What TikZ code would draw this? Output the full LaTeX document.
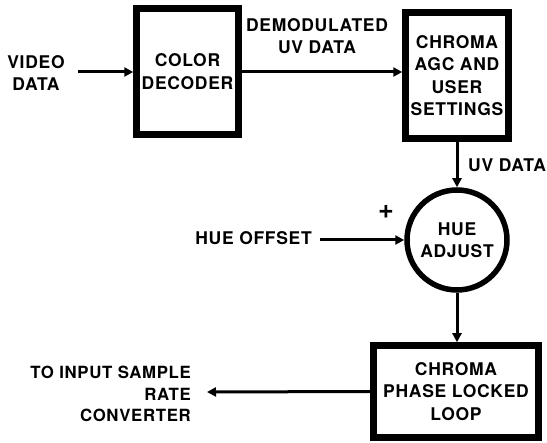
\documentclass[tikz,border=0pt]{standalone}
\usepackage{fontspec}
\setmainfont{TeX Gyre Heros}[LetterSpace=4]
\usetikzlibrary{arrows.meta}
\begin{document}
\begin{tikzpicture}[x=1pt,y=-1pt,
  lbl/.style={font=\fontsize{17.5}{22}\selectfont\bfseries, align=center, inner sep=0pt},
  blk/.style={draw, line width=6.5pt, align=center, inner sep=0pt, font=\fontsize{17.5}{22.5}\selectfont\bfseries},
  sumc/.style={draw, circle, line width=5.5pt, align=center, inner sep=0pt, font=\fontsize{17.5}{22}\selectfont\bfseries},
  conn/.style={line width=3pt, -{Triangle[length=9pt,width=9pt]}}]
\useasboundingbox (0,0) rectangle (547,443);
\node[blk, minimum width=102pt, minimum height=126pt] (cd) at (187.5,71.5) {COLOR\\DECODER};
\node[blk, minimum width=103pt, minimum height=126pt] (agc) at (457,75.5) {CHROMA\\AGC AND\\USER\\SETTINGS};
\node[sumc, minimum size=100pt] (hue) at (457,240) {HUE\\ADJUST};
\node[blk, minimum width=165pt, minimum height=92pt] (pll) at (456,391.5) {CHROMA\\PHASE LOCKED\\LOOP};
\node[lbl] (vid) at (36,73.5) {VIDEO\\DATA};
\node[lbl] (dem) at (317,36.5) {DEMODULATED\\UV DATA};
\node[lbl, anchor=west] (uvd) at (468,165) {UV DATA};
\node[lbl, font=\fontsize{27}{27}\selectfont\bfseries] (plus) at (386,212) {+};
\node[lbl, anchor=east] (hoff) at (312,238) {HUE OFFSET};
\node[lbl, align=right, anchor=east, font=\fontsize{16.8}{21.5}\selectfont\bfseries] (tis) at (191,394) {TO INPUT SAMPLE\\RATE\\CONVERTER};
\coordinate (vidend) at (78,72);
\coordinate (hoffend) at (320,240);
\coordinate (outend) at (207,392);
\draw[conn] (vidend) -- (vidend -| cd.west);
\draw[conn] (vidend -| cd.east) -- (vidend -| agc.west);
\draw[conn] (agc.south) -- (hue.north);
\draw[conn] (hoffend) -- (hue.west);
\draw[conn] (hue.south) -- (hue.south |- pll.north);
\draw[conn] (pll.west) -- (outend);
\end{tikzpicture}
\end{document}
